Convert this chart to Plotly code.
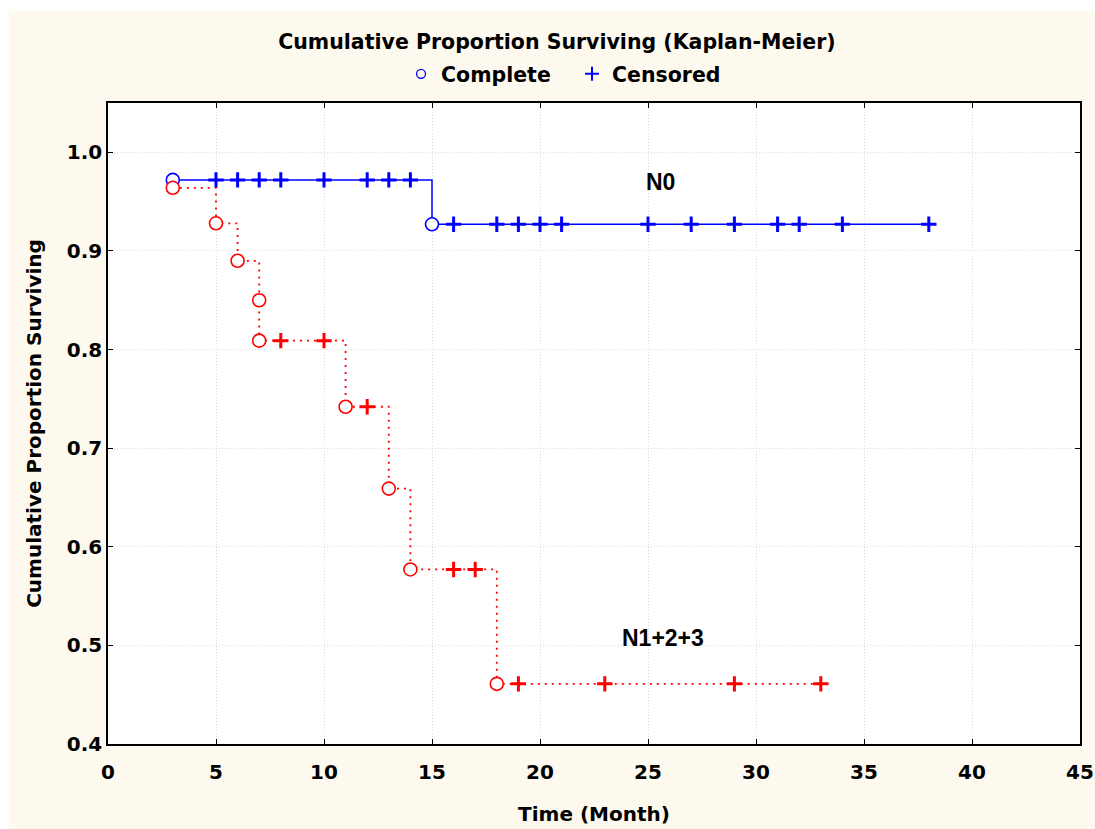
import plotly.graph_objects as go

# ---------------- data ----------------
# N0 group (blue)
n0_event_t = [3, 15]
n0_event_s = [0.972, 0.927]
n0_cens_t = [5, 6, 7, 8, 10, 12, 13, 14, 16, 18, 19, 20, 21, 25, 27, 29, 31, 32, 34, 38]

# N1+2+3 group (red)
n1_event_t = [3, 5, 6, 7, 7, 11, 13, 14, 18]
n1_event_s = [0.964, 0.928, 0.890, 0.850, 0.809, 0.742, 0.659, 0.577, 0.461]
n1_cens_t = [8, 10, 12, 16, 17, 19, 23, 29, 33]

x_ticks = [0, 5, 10, 15, 20, 25, 30, 35, 40, 45]
y_ticks = [0.4, 0.5, 0.6, 0.7, 0.8, 0.9, 1.0]

labels = {"N0": (25.6, 0.970), "N1+2+3": (25.7, 0.508)}


def surv_at(t, ev_t, ev_s):
    s = ev_s[0]
    for et, es in zip(ev_t, ev_s):
        if et <= t:
            s = es
    return s


def step_line(ev_t, ev_s, cens_t):
    end = max(cens_t + ev_t)
    xs = list(ev_t) + [end]
    ys = list(ev_s) + [surv_at(end, ev_t, ev_s)]
    return xs, ys


BLUE = "#0000ff"
RED = "#ff0000"
FONT = "DejaVu Sans"

fig = go.Figure()

for ev_t, ev_s, cens_t, col, dash, lw in [
    (n0_event_t, n0_event_s, n0_cens_t, BLUE, "solid", 1.5),
    (n1_event_t, n1_event_s, n1_cens_t, RED, "2px,5px", 1.8),
]:
    lx, ly = step_line(ev_t, ev_s, cens_t)
    fig.add_trace(go.Scatter(x=lx, y=ly, mode="lines", line=dict(color=col, width=lw, dash=dash, shape="hv"),
                             showlegend=False, hoverinfo="skip"))
    fig.add_trace(go.Scatter(x=cens_t, y=[surv_at(t, ev_t, ev_s) for t in cens_t], mode="markers",
                             marker=dict(symbol="cross-thin", size=11, color=col, line=dict(width=3, color=col)),
                             showlegend=False))
    fig.add_trace(go.Scatter(x=ev_t, y=ev_s, mode="markers",
                             marker=dict(symbol="circle", size=13, color="white", line=dict(width=1.6, color=col)),
                             showlegend=False))

# legend entries
fig.add_trace(go.Scatter(x=[None], y=[None], mode="markers", name="Complete",
                         marker=dict(symbol="circle-open", size=9, color=BLUE, line=dict(width=1.3, color=BLUE))))
fig.add_trace(go.Scatter(x=[None], y=[None], mode="markers", name="Censored",
                         marker=dict(symbol="cross-thin", size=10, color=BLUE, line=dict(width=2, color=BLUE))))

for txt, (lx, ly) in labels.items():
    fig.add_annotation(x=lx, y=ly, text=f"<b>{txt}</b>", showarrow=False,
                       font=dict(family="Liberation Sans", size=23, color="black"))

W, H = 1095, 829
L, R, T, B = 108, 15, 103, 85
pw, ph = W - L - R, H - T - B


def px_x(px):
    return (px - L) / pw


def px_y(py):
    return (H - B - py) / ph


# white strips at top and left edge (outside cream frame)
fig.add_shape(type="rect", xref="paper", yref="paper", x0=px_x(0), x1=px_x(W), y0=px_y(11), y1=px_y(0),
              fillcolor="white", line=dict(width=0), layer="above")
fig.add_shape(type="rect", xref="paper", yref="paper", x0=px_x(0), x1=px_x(9), y0=px_y(H), y1=px_y(0),
              fillcolor="white", line=dict(width=0), layer="above")

axis_common = dict(showline=True, linecolor="black", linewidth=1.6, mirror="ticks", ticks="inside",
                   ticklen=5, tickwidth=1.2, tickcolor="black", showgrid=True, gridcolor="#dcdcdc",
                   griddash="1px,2px", gridwidth=1, zeroline=False, ticklabeloverflow="allow",
                   automargin=False,
                   tickfont=dict(family=FONT, size=20, color="black", weight="bold"))

fig.update_layout(
    width=W, height=H,
    margin=dict(l=L, r=R, t=T, b=B),
    paper_bgcolor="#fdf9ee",
    plot_bgcolor="white",
    font=dict(family=FONT, color="black"),
    title=dict(text="<b>Cumulative Proportion Surviving (Kaplan-Meier)</b>", xref="paper", x=px_x(557),
               xanchor="center", yref="container", y=1 - 42 / H, yanchor="middle",
               font=dict(family=FONT, size=20.5, color="black")),
    legend=dict(orientation="h", x=px_x(401), xanchor="left", y=px_y(74), yanchor="middle",
                font=dict(family=FONT, size=20.5, color="black", weight="bold"),
                bgcolor="rgba(0,0,0,0)", entrywidth=126, entrywidthmode="pixels"),
    xaxis=dict(range=[0, 45], tickvals=x_ticks, ticktext=[str(v) for v in x_ticks], ticklabelstandoff=9,
               title=dict(text="<b>Time (Month)</b>", font=dict(family=FONT, size=20, color="black"), standoff=24),
               **axis_common),
    yaxis=dict(range=[0.4, 1.05], tickvals=y_ticks, ticktext=[f"{v:.1f}" for v in y_ticks],
               title=dict(text="<b>Cumulative Proportion Surviving</b>", font=dict(family=FONT, size=20, color="black"),
                          standoff=20),
               **axis_common),
)

fig.write_html("out.html")
